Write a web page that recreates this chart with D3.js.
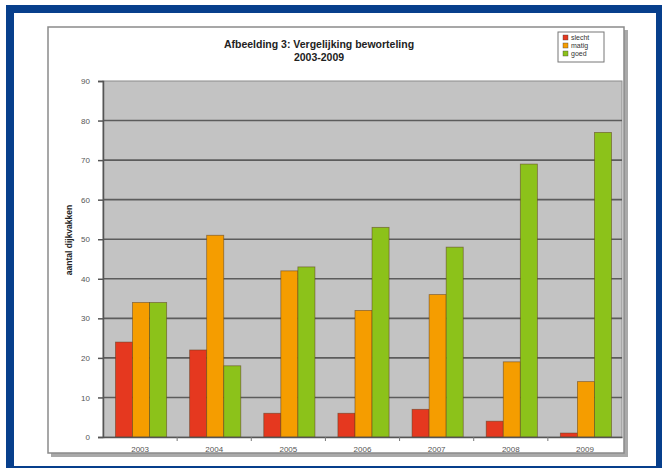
<!DOCTYPE html>
<html>
<head>
<meta charset="utf-8">
<script src="https://cdn.jsdelivr.net/npm/d3@7"></script>
<style>
  html, body { margin: 0; padding: 0; background: #fff; }
  svg { display: block; }
  text { font-family: Arial, "Liberation Sans", sans-serif; }
</style>
</head>
<body>
<script>
// Root condition of dike sections per year
const years = ["2003", "2004", "2005", "2006", "2007", "2008", "2009"];
const seriesNames = ["slecht", "matig", "goed"];
const slecht = [24, 22, 6, 6, 7, 4, 1];
const matig = [34, 51, 42, 32, 36, 19, 14];
const goed = [34, 18, 43, 53, 48, 69, 77];
const yTicks = [0, 10, 20, 30, 40, 50, 60, 70, 80, 90];
const colors = ["#e5381f", "#f59d00", "#8cc21a"];

const seriesValues = [slecht, matig, goed];

const W = 662, H = 468;
const svg = d3.select("body").append("svg").attr("width", W).attr("height", H);

// page frame
svg.append("rect").attr("x", 0).attr("y", 0).attr("width", W).attr("height", H).attr("fill", "#fff");
svg.append("rect").attr("x", 10).attr("y", 9).attr("width", 650).attr("height", 461)
  .attr("fill", "none").attr("stroke", "#073f8c").attr("stroke-width", 8);

// chart box with shadow
svg.append("rect").attr("x", 51).attr("y", 30).attr("width", 577).attr("height", 427).attr("fill", "#a9a9a9");
svg.append("rect").attr("x", 48).attr("y", 27).attr("width", 576).attr("height", 426)
  .attr("fill", "#fff").attr("stroke", "#8a8a8a").attr("stroke-width", 1.5);

const plot = { left: 103, top: 81, right: 622, bottom: 437 };

const x = d3.scaleBand().domain(years).range([plot.left, plot.right]).paddingInner(0).paddingOuter(0);
const y = d3.scaleLinear().domain([0, 90]).range([plot.bottom, plot.top]);

const groupWidth = x.bandwidth() * 0.69;
const xs = d3.scaleBand().domain(seriesNames).range([0, groupWidth]);

// plot area
svg.append("rect").attr("x", plot.left).attr("y", plot.top)
  .attr("width", plot.right - plot.left).attr("height", plot.bottom - plot.top)
  .attr("fill", "#c3c3c3").attr("stroke", "#8c8c8c").attr("stroke-width", 1);

// gridlines
svg.append("g").selectAll("line").data(yTicks.filter(d => d > 0 && d < 90)).join("line")
  .attr("x1", plot.left).attr("x2", plot.right)
  .attr("y1", d => y(d)).attr("y2", d => y(d))
  .attr("stroke", "#5c5c5c").attr("stroke-width", 1.6);

// bars
const groups = svg.append("g").selectAll("g").data(years).join("g")
  .attr("transform", d => `translate(${x(d) + (x.bandwidth() - groupWidth) / 2 + 1},0)`);
groups.selectAll("rect")
  .data((yr, i) => seriesNames.map((s, k) => ({ s, k, v: seriesValues[k][i] })))
  .join("rect")
  .attr("x", d => xs(d.s))
  .attr("width", xs.bandwidth())
  .attr("y", d => y(d.v))
  .attr("height", d => y(0) - y(d.v))
  .attr("fill", d => colors[d.k])
  .attr("stroke", "#5a3a1a").attr("stroke-width", 0.8).attr("stroke-opacity", 0.6);

// y axis
const yAxis = d3.axisLeft(y).tickValues(yTicks).tickSize(5).tickPadding(8);
const gy = svg.append("g").attr("transform", `translate(${plot.left},0)`).call(yAxis);
gy.select(".domain").attr("stroke", "#555").attr("stroke-width", 1.5);
gy.selectAll(".tick line").attr("stroke", "#555").attr("stroke-width", 1.5);
gy.selectAll(".tick text").attr("fill", "#555").attr("font-size", 8);

// x axis
const xAxis = d3.axisBottom(x).tickSize(0).tickPadding(9);
const gx = svg.append("g").attr("transform", `translate(0,${plot.bottom})`).call(xAxis);
gx.select(".domain").attr("stroke", "#555").attr("stroke-width", 1.5);
gx.selectAll(".tick text").attr("fill", "#555").attr("font-size", 8);
// category separators
svg.append("g").selectAll("line").data(years.slice(1)).join("line")
  .attr("x1", d => x(d)).attr("x2", d => x(d))
  .attr("y1", plot.bottom).attr("y2", plot.bottom + 4)
  .attr("stroke", "#777").attr("stroke-width", 1);

// y axis title
svg.append("text")
  .attr("transform", `translate(72,240) rotate(-90)`)
  .attr("text-anchor", "middle").attr("font-size", 8.5).attr("font-weight", "bold").attr("fill", "#222")
  .text("aantal dijkvakken");

// title
const title = svg.append("text").attr("text-anchor", "middle").attr("font-size", 10.5)
  .attr("font-weight", "bold").attr("fill", "#222");
title.append("tspan").attr("x", 319).attr("y", 48).text("Afbeelding 3: Vergelijking beworteling");
title.append("tspan").attr("x", 319).attr("y", 61).text("2003-2009");

// legend
const lg = svg.append("g").attr("transform", "translate(558,32)");
lg.append("rect").attr("width", 46).attr("height", 30).attr("fill", "#fff").attr("stroke", "#777").attr("stroke-width", 1);
const li = lg.selectAll("g").data(seriesNames).join("g")
  .attr("transform", (d, i) => `translate(5,${6 + i * 8})`);
li.append("rect").attr("x", 0).attr("y", -3).attr("width", 5).attr("height", 5)
  .attr("fill", (d, i) => colors[i]).attr("stroke", "#444").attr("stroke-width", 0.4);
li.append("text").attr("x", 8).attr("y", 2).attr("font-size", 7).attr("fill", "#333").text(d => d);
</script>
</body>
</html>
